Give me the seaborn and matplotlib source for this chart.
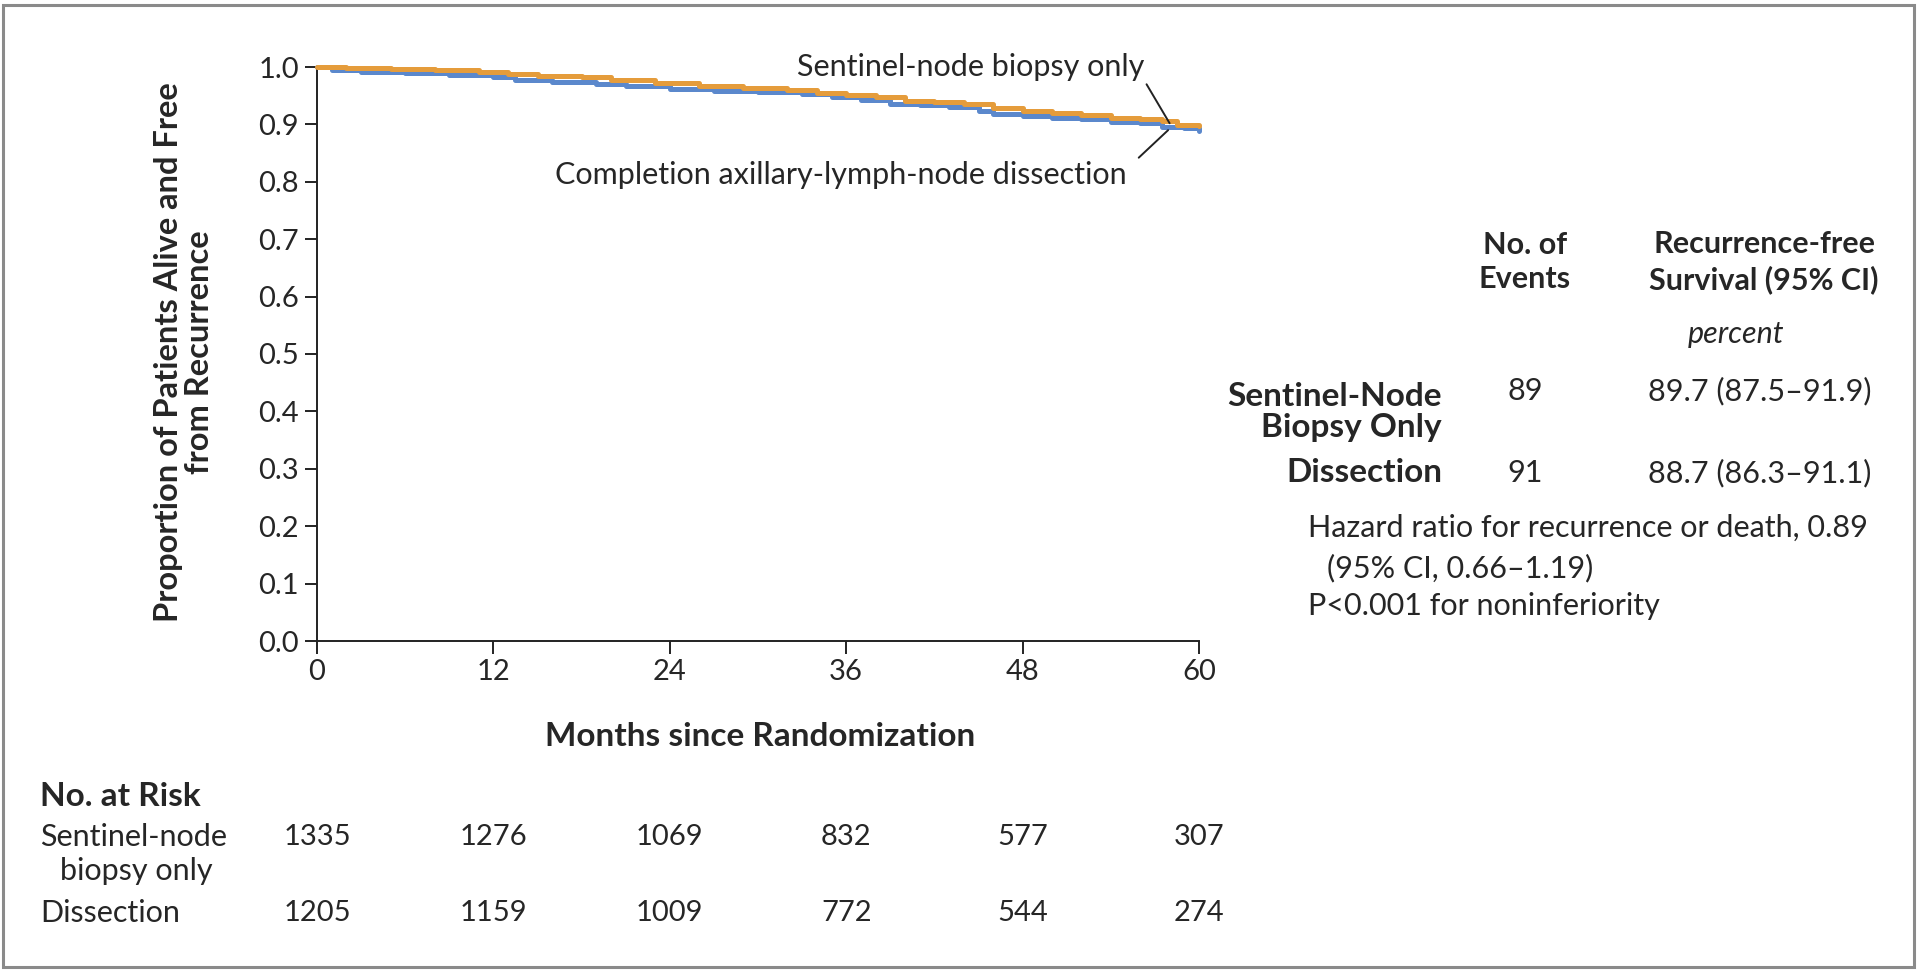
import matplotlib
matplotlib.use("Agg")
import matplotlib.pyplot as plt
from matplotlib.patches import Rectangle
import seaborn as sns
import pandas as pd

# Kaplan-Meier style step curves (months, proportion)
sentinel_months = [0, 2, 5, 8, 11, 13, 15, 18, 20, 23, 26, 29, 32, 34, 36, 38, 40,
                   42, 44, 46, 48, 50, 52, 54, 56, 57.5, 58.5, 60]
sentinel_surv = [1.0, 0.998, 0.996, 0.994, 0.992, 0.988, 0.985, 0.982, 0.977, 0.972,
                 0.967, 0.963, 0.960, 0.955, 0.951, 0.947, 0.941, 0.939, 0.936, 0.929,
                 0.924, 0.919, 0.916, 0.912, 0.910, 0.906, 0.899, 0.897]

dissection_months = [0, 1, 3, 6, 9, 12, 13.5, 16, 19, 21, 24, 27, 30, 33, 35, 37, 39,
                     41, 43, 45, 46, 48, 50, 52, 54, 56, 57.5, 59, 60]
dissection_surv = [1.0, 0.995, 0.992, 0.989, 0.986, 0.983, 0.977, 0.974, 0.970, 0.967,
                   0.962, 0.958, 0.956, 0.953, 0.948, 0.942, 0.936, 0.933, 0.930, 0.924,
                   0.918, 0.915, 0.911, 0.909, 0.905, 0.902, 0.895, 0.893, 0.888]

arm_names = ["Sentinel-node biopsy only", "Completion axillary-lymph-node dissection"]
arm_colors = ["#E59C3B", "#5B88CC"]

risk_months = [0, 12, 24, 36, 48, 60]
risk_sentinel = [1335, 1276, 1069, 832, 577, 307]
risk_dissection = [1205, 1159, 1009, 772, 544, 274]

y_ticks = [0.0, 0.1, 0.2, 0.3, 0.4, 0.5, 0.6, 0.7, 0.8, 0.9, 1.0]

events = [89, 91]
rfs = ["89.7 (87.5\u201391.9)", "88.7 (86.3\u201391.1)"]

sns.set_style("white")
plt.rcParams["font.family"] = ["Lato", "DejaVu Sans"]
FS = 22      # normal text
FS_B = 24    # bold labels
FS_T = 21    # tick labels / risk numbers

df = pd.concat([
    pd.DataFrame({"month": sentinel_months, "surv": sentinel_surv, "arm": arm_names[0]}),
    pd.DataFrame({"month": dissection_months, "surv": dissection_surv, "arm": arm_names[1]}),
])

fig = plt.figure(figsize=(19.21, 9.73), dpi=100)
ax = fig.add_axes([317 / 1921, 1 - 641 / 973, 882 / 1921, 574 / 973])

sns.lineplot(data=df, x="month", y="surv", hue="arm", palette=dict(zip(arm_names, arm_colors)),
             drawstyle="steps-post", estimator=None, linewidth=3.6, legend=False, ax=ax)
for line in ax.lines:
    line.set_clip_on(False)
ax.lines[0].set_zorder(3)

ax.set_xlim(0, 60)
ax.set_ylim(0, 1.0)
ax.set_xticks(risk_months)
ax.set_yticks(y_ticks)
ax.set_yticklabels([f"{v:.1f}" for v in y_ticks])
sns.despine(ax=ax)
for s in ("left", "bottom"):
    ax.spines[s].set_linewidth(1.4)
    ax.spines[s].set_color("#222222")
ax.tick_params(axis="both", direction="out", length=9, width=1.4, color="#222222",
               labelsize=FS_T, pad=4, left=True, bottom=True)
ax.set_xlabel("")
ax.set_ylabel("")

# axis titles
fig.text(184 / 1921, 1 - 352 / 973, "Proportion of Patients Alive and Free\nfrom Recurrence",
         rotation=90, ha="center", va="center", fontsize=23.5, fontweight="bold", linespacing=1.05)
fig.text(760 / 1921, 1 - 737 / 973, "Months since Randomization", ha="center", va="center",
         fontsize=FS_B, fontweight="bold")

# curve labels with leader lines
ax.annotate(arm_names[0], xy=(58.0, 0.902), xytext=(56.3, 1.0), ha="right", va="center",
            fontsize=FS, arrowprops=dict(arrowstyle="-", color="#222222", lw=1.4,
                                         shrinkA=0, shrinkB=0, relpos=(1.0, 0.0)))
ax.text(55.1, 0.812, arm_names[1], ha="right", va="center", fontsize=FS)
ax.annotate("", xy=(57.9, 0.890), xytext=(55.9, 0.842),
            arrowprops=dict(arrowstyle="-", color="#222222", lw=1.4, shrinkA=0, shrinkB=0))

# number at risk table
fig.text(40 / 1921, 1 - 796 / 973, "No. at Risk", ha="left", va="center", fontsize=FS_B, fontweight="bold")
fig.text(40 / 1921, 1 - 837 / 973, "Sentinel-node", ha="left", va="center", fontsize=FS)
fig.text(60 / 1921, 1 - 871 / 973, "biopsy only", ha="left", va="center", fontsize=FS)
fig.text(40 / 1921, 1 - 913 / 973, "Dissection", ha="left", va="center", fontsize=FS)
for m, a, b in zip(risk_months, risk_sentinel, risk_dissection):
    x_fig = fig.transFigure.inverted().transform(ax.transData.transform((m, 0)))[0]
    fig.text(x_fig, 1 - 837 / 973, str(a), ha="center", va="center", fontsize=FS_T)
    fig.text(x_fig, 1 - 913 / 973, str(b), ha="center", va="center", fontsize=FS_T)

# summary table on the right
fig.text(1525 / 1921, 1 - 262 / 973, "No. of\nEvents", ha="center", va="center",
         fontsize=FS, fontweight="bold", linespacing=1.3)
fig.text(1764 / 1921, 1 - 262 / 973, "Recurrence-free\nSurvival (95% CI)", ha="center",
         va="center", fontsize=FS, fontweight="bold", linespacing=1.3)
fig.text(1736 / 1921, 1 - 334 / 973, "percent", ha="center", va="center", fontsize=FS,
         fontstyle="italic")
fig.text(1442 / 1921, 1 - 412 / 973, "Sentinel-Node\nBiopsy Only", ha="right", va="center",
         fontsize=FS_B, fontweight="bold", linespacing=1.1)
fig.text(1442 / 1921, 1 - 473 / 973, "Dissection", ha="right", va="center", fontsize=FS_B,
         fontweight="bold")
for y, ev, r in zip([391, 473], events, rfs):
    fig.text(1525 / 1921, 1 - y / 973, str(ev), ha="center", va="center", fontsize=FS)
    fig.text(1760 / 1921, 1 - y / 973, r, ha="center", va="center", fontsize=FS)
fig.text(1308 / 1921, 1 - 528 / 973, "Hazard ratio for recurrence or death, 0.89",
         ha="left", va="center", fontsize=FS)
fig.text(1327 / 1921, 1 - 568 / 973, "(95% CI, 0.66\u20131.19)", ha="left", va="center", fontsize=FS)
fig.text(1308 / 1921, 1 - 606 / 973, "P<0.001 for noninferiority", ha="left", va="center", fontsize=FS)

# outer frame
fig.patches.append(Rectangle((3 / 1921, 6 / 973), 1911 / 1921, 962 / 973,
                             transform=fig.transFigure, fill=False,
                             edgecolor="#8a8a8a", linewidth=2.2))

fig.savefig("out.png", dpi=100, facecolor="white")
